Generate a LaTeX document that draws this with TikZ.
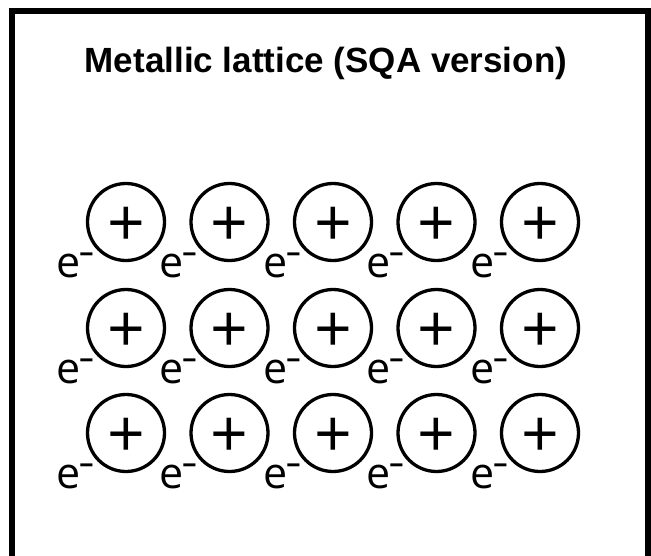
\documentclass[tikz,border=0pt]{standalone}
\usepackage{fontspec}
\setmainfont{Open Sans}
\newfontfamily\titlefont{Liberation Sans}
\begin{document}
\begin{tikzpicture}[x=1pt,y=-1pt,
  ion/.style={circle,draw,line width=3.3pt,minimum size=77pt,inner sep=0pt,
    font=\fontsize{66}{66}\selectfont},
  elec/.style={anchor=base west,inner sep=0pt,font=\fontsize{43}{43}\selectfont},
  frame/.style={line width=5.5pt}]
\useasboundingbox (0,0) rectangle (651,555);
\begin{scope}
  \clip (0,0) rectangle (651,555);
  \draw[frame] (12,11) rectangle (648,580);
\end{scope}
\node[font=\titlefont\bfseries\fontsize{35}{35}\selectfont, anchor=base] (title) at (326,72) {Metallic lattice (SQA version)};
\foreach \r/\y in {1/222,2/328,3/433} {
  \foreach \c in {1,...,5} {
    \pgfmathsetmacro\xx{126+103.5*(\c-1)}
    \node[ion] (ion-\r-\c) at (\xx,\y) {\smash{\raisebox{-24pt}{+}}};
    \node[elec] (e-\r-\c) at (\xx-70,\y+55) {e\hspace{-1pt}\raisebox{8pt}{\scalebox{0.6}[1]{−}}};
  }
}
\end{tikzpicture}
\end{document}
